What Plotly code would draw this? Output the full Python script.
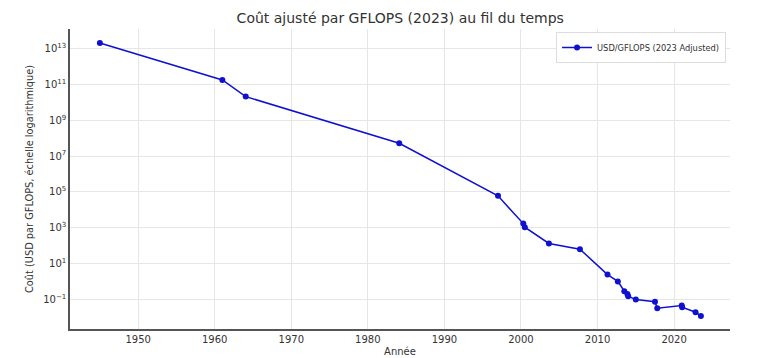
import plotly.graph_objects as go

years = [1945.0, 1961.0, 1964.05, 1984.1, 1997.0, 2000.3, 2000.5, 2003.65, 2007.7,
         2011.3, 2012.65, 2013.5, 2013.9, 2014.0, 2015.0, 2017.5, 2017.8,
         2021.0, 2021.05, 2022.8, 2023.5]
cost = [2.1e13, 1.8e11, 2.1e10, 5.2e7, 6.0e4, 1.7e3, 1.07e3, 132, 63,
        2.4, 1.0, 0.28, 0.2, 0.15, 0.096, 0.074, 0.032,
        0.045, 0.036, 0.019, 0.0115]

ytick_vals = [1e-1, 1e1, 1e3, 1e5, 1e7, 1e9, 1e11, 1e13]
ytick_text = ["10<sup>\u22121</sup>", "10<sup>1</sup>", "10<sup>3</sup>", "10<sup>5</sup>",
              "10<sup>7</sup>", "10<sup>9</sup>", "10<sup>11</sup>", "10<sup>13</sup>"]
xtick_vals = [1950, 1960, 1970, 1980, 1990, 2000, 2010, 2020]

fig = go.Figure()
fig.add_trace(go.Scatter(
    x=years, y=cost, mode="lines+markers",
    name="USD/GFLOPS (2023 Adjusted)",
    line=dict(color="#1010d0", width=1.5),
    marker=dict(color="#1010d0", size=6),
))

fig.update_layout(
    width=758, height=358,
    margin=dict(l=70, r=28, t=29, b=29),
    paper_bgcolor="white", plot_bgcolor="white",
    font=dict(family="DejaVu Sans", color="#333333", size=10),
    title=dict(text="Coût ajusté par GFLOPS (2023) au fil du temps",
               x=0.528, xanchor="center", y=0.95, yanchor="middle",
               font=dict(size=14, color="#333333")),
    showlegend=True,
    legend=dict(x=0.994, y=0.99, xanchor="right", yanchor="top",
                bordercolor="#dddddd", borderwidth=1, bgcolor="white",
                itemwidth=30, tracegroupgap=0,
                font=dict(size=8.3, color="#333333")),
    xaxis=dict(range=[1941.1, 2027.3], tickvals=xtick_vals, automargin=False,
               showgrid=True, gridcolor="#e6e6e6", gridwidth=1,
               showline=True, linecolor="#555555", linewidth=1.5,
               zeroline=False, ticks="",
               title=dict(text="Année", font=dict(size=10), standoff=4)),
    yaxis=dict(type="log", range=[-2.66, 14.10], tickvals=ytick_vals, ticktext=ytick_text,
               automargin=False,
               showgrid=True, gridcolor="#e6e6e6", gridwidth=1,
               showline=True, linecolor="#555555", linewidth=1.5,
               zeroline=False, ticks="",
               title=dict(text="Coût (USD par GFLOPS, échelle logarithmique)",
                          font=dict(size=9.8), standoff=8)),
)

fig.write_html("out.html", config={"displayModeBar": False},
               post_script="document.body.style.margin='0';document.body.style.overflow='hidden';")
